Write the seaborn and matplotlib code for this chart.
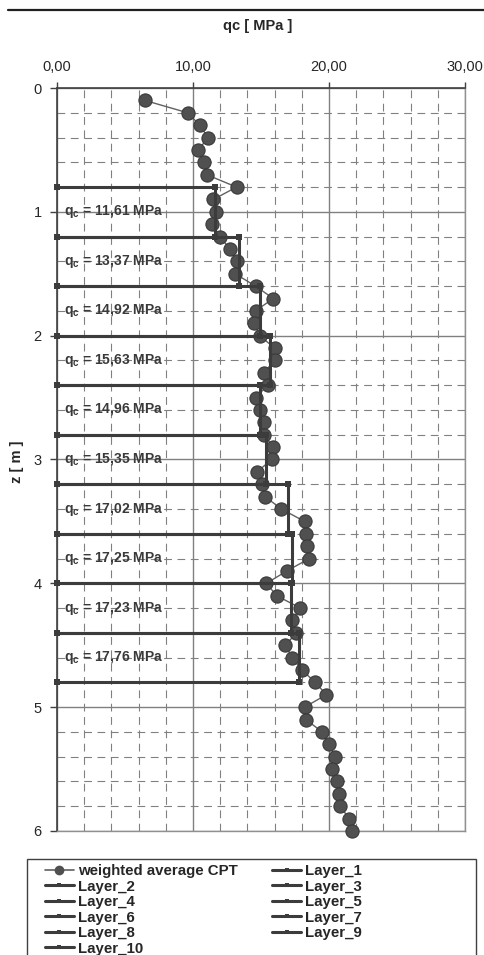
#%%
import numpy as np
import pandas as pd
import seaborn as sns
import matplotlib.pyplot as plt
from matplotlib.lines import Line2D
from matplotlib.patches import Rectangle
from matplotlib.ticker import MultipleLocator, FuncFormatter

#%%
# CPT profil (weighted average)
depth = [0.1, 0.2, 0.3, 0.4, 0.5, 0.6, 0.7, 0.8, 0.9, 1.0,
         1.1, 1.2, 1.3, 1.4, 1.5, 1.6, 1.7, 1.8, 1.9, 2.0,
         2.1, 2.2, 2.3, 2.4, 2.5, 2.6, 2.7, 2.8, 2.9, 3.0,
         3.1, 3.2, 3.3, 3.4, 3.5, 3.6, 3.7, 3.8, 3.9, 4.0,
         4.1, 4.2, 4.3, 4.4, 4.5, 4.6, 4.7, 4.8, 4.9, 5.0,
         5.1, 5.2, 5.3, 5.4, 5.5, 5.6, 5.7, 5.8, 5.9, 6.0]
qc_cpt = [6.45, 9.6, 10.5, 11.1, 10.4, 10.8, 11.0, 13.2, 11.5, 11.7,
          11.4, 12.0, 12.7, 13.2, 13.1, 14.6, 15.9, 14.6, 14.5, 14.9,
          16.0, 16.0, 15.2, 15.5, 14.6, 14.9, 15.2, 15.2, 15.9, 15.8,
          14.7, 15.05, 15.3, 16.5, 18.2, 18.3, 18.35, 18.55, 16.9, 15.4,
          16.15, 17.9, 17.25, 17.6, 16.8, 17.3, 18.0, 19.0, 19.8, 18.2,
          18.3, 19.5, 20.0, 20.45, 20.2, 20.6, 20.7, 20.8, 21.5, 21.7]

# Layers
layer_names = ['Layer_1', 'Layer_2', 'Layer_3', 'Layer_4', 'Layer_5',
               'Layer_6', 'Layer_7', 'Layer_8', 'Layer_9', 'Layer_10']
layer_top = [0.8, 1.2, 1.6, 2.0, 2.4, 2.8, 3.2, 3.6, 4.0, 4.4]
layer_bot = [1.2, 1.6, 2.0, 2.4, 2.8, 3.2, 3.6, 4.0, 4.4, 4.8]
layer_qc = [11.61, 13.37, 14.92, 15.63, 14.96, 15.35, 17.02, 17.25, 17.23, 17.76]

#%%
sns.set_style('white')
plt.rcParams['font.family'] = ['Liberation Sans', 'DejaVu Sans']
plt.rcParams['mathtext.fontset'] = 'custom'
plt.rcParams['mathtext.rm'] = 'Liberation Sans'
plt.rcParams['mathtext.bf'] = 'Liberation Sans:bold'

W, H = 485, 955
fig = plt.figure(figsize=(W / 100, H / 100), dpi=100)
ax = fig.add_axes([57 / W, 1 - 831 / H, (465 - 57) / W, (831 - 88) / H])

df = pd.DataFrame({'qc': qc_cpt, 'z': depth})
sns.lineplot(data=df, x='qc', y='z', sort=False, estimator=None, ax=ax,
             color='#606060', lw=1.0, marker='o', markersize=9.5,
             markerfacecolor='#505050', markeredgecolor='#3a3a3a',
             markeredgewidth=0.8, zorder=3, clip_on=False)

# layer blocks: (0,top) -> (qc,top) -> (qc,bot) -> (0,bot)
for name, t, b, q in zip(layer_names, layer_top, layer_bot, layer_qc):
    d = pd.DataFrame({'qc': [0, q, q, 0], 'z': [t, t, b, b]})
    sns.lineplot(data=d, x='qc', y='z', sort=False, estimator=None, ax=ax,
                 color='#3c3c3c', lw=2.2, marker='s', markersize=4.5,
                 markeredgewidth=0, zorder=4, clip_on=False)
    lbl = r'$\mathbf{q_c}$ = ' + f'{q:.2f}'.replace('.', ',') + ' MPa'
    ax.text(0.5, (t + b) / 2, lbl, fontsize=10, fontweight='bold',
            color='#3a3a3a', va='center', ha='left', zorder=5)

#%%
ax.set_xlim(0, 30)
ax.set_ylim(6, 0)
ax.xaxis.set_major_locator(MultipleLocator(10))
ax.xaxis.set_minor_locator(MultipleLocator(2))
ax.yaxis.set_major_locator(MultipleLocator(1))
ax.yaxis.set_minor_locator(MultipleLocator(0.2))
ax.xaxis.set_major_formatter(FuncFormatter(lambda v, p: f'{v:.2f}'.replace('.', ',')))
ax.yaxis.set_major_formatter(FuncFormatter(lambda v, p: f'{v:.0f}'))

ax.tick_params(axis='x', which='major', top=True, bottom=False, labeltop=True,
               labelbottom=False, length=4, width=1, color='#404040',
               direction='out', pad=6, labelsize=10.5)
ax.tick_params(axis='y', which='major', left=True, length=5, width=1,
               color='#404040', direction='out', pad=6, labelsize=10.5)
ax.tick_params(which='minor', length=0)

ax.set_axisbelow(True)
ax.grid(which='major', color='#808080', lw=1.0, ls='-')
ax.grid(which='minor', color='#808080', lw=0.8, ls='--', dashes=(7, 5))

for s in ['left', 'top']:
    ax.spines[s].set_color('#404040')
    ax.spines[s].set_linewidth(1.2)
for s in ['right', 'bottom']:
    ax.spines[s].set_color('#909090')
    ax.spines[s].set_linewidth(1.0)

ax.set_xlabel('')
ax.set_ylabel('')

fig.text(258 / W, 1 - 26 / H, 'qc [ MPa ]', ha='center', va='center',
         fontsize=10.5, fontweight='bold')
fig.text(17 / W, 1 - 462 / H, 'z [ m ]', ha='center', va='center',
         rotation=90, fontsize=10.5, fontweight='bold')
fig.add_artist(Line2D([8 / W, 1], [1 - 10 / H, 1 - 10 / H], color='#202020', lw=1.6))

#%%
# legend
h_cpt = Line2D([], [], color='#606060', lw=1.2, marker='o', markersize=6,
               markerfacecolor='#505050', markeredgecolor='#505050')
h_lay = [Line2D([], [], color='#3c3c3c', lw=2.2, marker='s', markersize=3.5,
                markeredgewidth=0) for _ in layer_names]
labels_all = ['weighted average CPT'] + layer_names
handles_all = [h_cpt] + h_lay
# row-major order in 2 columns
order = [0, 2, 4, 6, 8, 10, 1, 3, 5, 7, 9]
leg = fig.legend([handles_all[i] for i in order], [labels_all[i] for i in order],
                 ncol=2, loc='upper left', bbox_to_anchor=(45 / W, 1 - 864 / H),
                 frameon=False, borderpad=0, borderaxespad=0, handlelength=1.9,
                 handletextpad=0.3, columnspacing=2.3, labelspacing=0.1,
                 prop={'size': 10.8, 'weight': 'bold'})
fig.add_artist(Rectangle((27 / W, -0.02), (476 - 27) / W, (1 - 859 / H) + 0.02,
                         transform=fig.transFigure, fill=False,
                         edgecolor='#404040', lw=1.0))

fig.savefig('out.png', dpi=100)
